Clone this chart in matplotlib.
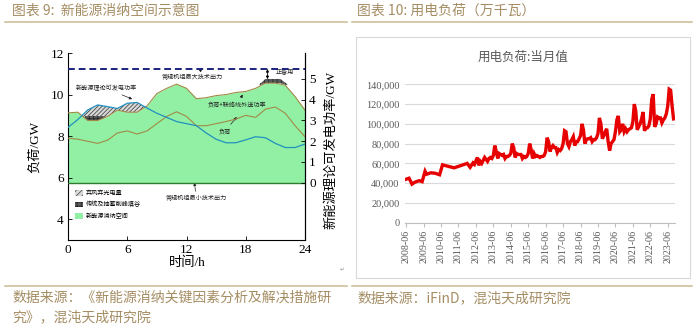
import numpy as np
import pandas as pd
import matplotlib
matplotlib.use("Agg")
import matplotlib.pyplot as plt
from matplotlib.patches import Patch
from matplotlib.lines import Line2D

plt.rcParams["font.family"] = ["Noto Sans CJK SC", "DejaVu Sans"]
plt.rcParams["hatch.linewidth"] = 0.5

TAN = "#a58d63"
RULE = "#cdb991"
SERIF = ["Liberation Serif", "Noto Sans CJK SC"]
GREEN = "#92f0a4"
OLIVE = "#a08a46"
BLUE = "#2191c0"

# ---- left panel: daily schematic (GW) ----
hours = list(range(25))
space_top = [9.12, 9.15, 8.75, 8.75, 8.95, 9.25, 9.15, 9.15, 9.45, 10.05, 10.30, 10.50, 10.30,
             9.80, 9.85, 9.95, 10.00, 10.10, 10.15, 10.30, 10.55, 10.55, 10.45, 9.90, 9.25]
load = [7.90, 7.85, 7.75, 7.65, 7.80, 8.15, 8.25, 8.10, 8.25, 8.60, 8.95, 9.17, 8.95,
        8.50, 8.50, 8.60, 8.70, 8.82, 9.00, 8.90, 9.30, 9.40, 9.10, 8.50, 7.97]
# new-energy theoretical output, right axis (GW)
res_avail = [2.66, 3.04, 3.50, 3.74, 3.66, 3.57, 3.82, 3.86, 3.59, 3.34, 3.14, 2.94, 2.84,
             2.74, 2.39, 2.09, 1.92, 1.92, 2.06, 2.21, 2.16, 1.89, 1.69, 1.69, 1.86]
MIN_OUTPUT = 5.76   # conventional units, minimum technical output
MAX_OUTPUT = 11.23  # conventional units, maximum technical output

# peak shaving / valley filling bands
band_hours = [1.7, 2.0, 3.0, 3.8]
band_low = [8.90, 8.75, 8.75, 8.90]
band_high = [8.95, 8.97, 8.97, 8.95]
cap_hours = [19.4, 20.0, 21.5, 22.2]
cap_low = [10.45, 10.55, 10.55, 10.45]
cap_high = [10.50, 10.75, 10.75, 10.50]

# ---- right panel: monthly power load (10MW) ----
early_months = ["2008-06", "2008-08", "2008-10", "2008-12", "2009-03", "2009-05", "2009-07",
                "2009-08", "2009-11", "2010-02", "2010-05", "2010-07", "2011-03", "2011-12",
                "2012-02", "2012-04", "2012-05"]
early_values = [44000, 45000, 39000, 41000, 42500, 41500, 52000, 49000, 50500, 50000, 48500,
                58500, 55500, 60000, 56000, 60500, 59000]
monthly_start = "2012-07"
monthly_values = [
    66000, 58000, 62000, 60000, 63000, 66000,
    64000, 62000, 65000, 66000, 65000, 68000, 78000, 72000, 65000, 70000, 69000, 68000,
    69000, 65000, 67000, 67000, 68000, 70000, 80000, 76000, 66000, 70000, 69000, 69000,
    69000, 65000, 67000, 66000, 67000, 70000, 80000, 74000, 65000, 70000, 67000, 68000,
    67000, 66000, 67000, 67000, 68000, 72000, 86000, 82000, 72000, 76000, 78000, 76000,
    76000, 71000, 74000, 73000, 75000, 80000, 93000, 92000, 80000, 77000, 82000, 84000,
    87000, 78000, 82000, 82000, 85000, 88000, 100000, 94000, 80000, 84000, 85000, 85000,
    86000, 82000, 84000, 84000, 86000, 90000, 106000, 100000, 85000, 88000, 92000, 95000,
    82000, 73000, 80000, 82000, 84000, 92000, 104000, 108000, 92000, 94000, 100000, 92000,
    95000, 92000, 94000, 95000, 96000, 102000, 120000, 113000, 94000, 97000, 100000, 105000,
    112000, 93000, 96000, 96000, 98000, 105000, 125000, 130000, 97000, 100000, 107000, 106000,
    106000, 101000, 104000, 106000, 110000, 118000, 135000, 134000, 118000, 105000,
]
tick_labels = [f"{y}-06" for y in range(2008, 2024)]

W, H = 700, 326
fig = plt.figure(figsize=(W / 100, H / 100), dpi=100)


def fx(x):
    return x / W


def fy(y):
    return 1 - y / H


# headers, rules and footers
fig.text(fx(12), fy(11), "图表 9:  新能源消纳空间示意图", color=TAN, fontsize=10, va="center")
fig.text(fx(357), fy(11), "图表 10: 用电负荷（万千瓦）", color=TAN, fontsize=10, va="center")
for x0, x1 in [(5, 347), (352, 692)]:
    fig.add_artist(Line2D([fx(x0), fx(x1)], [fy(22), fy(22)], color=RULE, lw=1.1))
    fig.add_artist(Line2D([fx(x0), fx(x1)], [fy(286), fy(286)], color=RULE, lw=1.1))
fig.text(fx(12), fy(298), "数据来源：《新能源消纳关键因素分析及解决措施研", color=TAN,
         fontsize=10, va="center")
fig.text(fx(12), fy(317), "究》，混沌天成研究院", color=TAN, fontsize=10, va="center")
fig.text(fx(357), fy(298), "数据来源：iFinD，混沌天成研究院", color=TAN, fontsize=10, va="center")
fig.text(fx(340), fy(270), "↵", color="#999999", fontsize=4, family="DejaVu Sans", va="center")

# ---- left chart ----
ax = fig.add_axes([fx(68), fy(240), fx(305) - fx(68), fy(53) - fy(240)])
ax2 = ax.twinx()
ax.set_xlim(0, 24)
ax.set_ylim(3, 12)
ax2.set_ylim(3 - MIN_OUTPUT, 12 - MIN_OUTPUT)

res_left = np.array(res_avail) + MIN_OUTPUT
top = np.array(space_top)
ax.fill_between(hours, MIN_OUTPUT, top, color=GREEN, lw=0, zorder=1)
ax.fill_between(hours, top, res_left, where=res_left > top, interpolate=True,
                facecolor="#d8d8d8", edgecolor="#333333", hatch="////////", lw=0, zorder=2)
ax.fill_between(band_hours, band_low, band_high, facecolor="#5a5a5a", edgecolor="#222222",
                hatch="++++", lw=0, zorder=3)
ax.fill_between(cap_hours, cap_low, cap_high, facecolor="#5a5a5a", edgecolor="#222222",
                hatch="||||", lw=0, zorder=3)
ax.plot(hours, space_top, color=OLIVE, lw=0.8, zorder=4)
ax.plot(hours, load, color=OLIVE, lw=0.8, zorder=4)
ax2.plot(hours, res_avail, color=BLUE, lw=0.9, zorder=4)
ax.axhline(MIN_OUTPUT, color="#2e7d32", lw=1.0, zorder=4)
ax.axhline(MAX_OUTPUT, color="#1a237e", lw=1.4, ls=(0, (3.5, 2)), zorder=4)

ax.set_xticks([0, 6, 12, 18, 24])
ax.set_yticks([4, 6, 8, 10, 12])
ax2.set_yticks([0, 1, 2, 3, 4, 5])
for a in (ax, ax2):
    a.spines["top"].set_visible(False)
    a.tick_params(direction="in", length=3, width=0.6, labelsize=9.5, pad=3)
    for lab in a.get_xticklabels() + a.get_yticklabels():
        lab.set_family(SERIF)
    for s in a.spines.values():
        s.set_linewidth(0.8)
ax2.spines["left"].set_visible(False)
ax2.spines["bottom"].set_visible(False)

fig.text(fx(35), fy(147), "负荷/GW", rotation=90, fontsize=9.5, ha="center", va="center",
         family=SERIF)
fig.text(fx(331), fy(150), "新能源理论可发电功率/GW", rotation=90, fontsize=9.5, ha="center",
         va="center", family=SERIF)
fig.text(fx(187), fy(263), "时间/h", fontsize=9.5, ha="center", va="center", family=SERIF)

note = dict(fontsize=4.4, color="#222222", ha="center", va="center")
arrow = dict(arrowstyle="-|>", lw=0.5, color="#222222", mutation_scale=4,
             shrinkA=0, shrinkB=0)
ax.annotate("新能源理论可发电功率", xy=(6.5, 9.78), xytext=(3.85, 10.31),
            arrowprops=arrow, **note)
ax.annotate("常规机组最大技术出力", xy=(13.6, MAX_OUTPUT), xytext=(12.6, 10.84),
            arrowprops=arrow, **note)
ax.annotate("负荷+联络线外送功率", xy=(17.7, 10.0), xytext=(17.1, 9.52),
            arrowprops=arrow, **note)
ax.annotate("负荷", xy=(17.1, 8.92), xytext=(15.9, 8.24), arrowprops=arrow, **note)
ax.annotate("常规机组最小技术出力", xy=(12.8, MIN_OUTPUT), xytext=(13.0, 5.02),
            arrowprops=arrow, **note)
ax.annotate("", xy=(20.2, 10.74), xytext=(20.2, MAX_OUTPUT),
            arrowprops=dict(arrowstyle="<|-|>", lw=0.6, color="black", mutation_scale=4,
                            shrinkA=0, shrinkB=0))
ax.text(21.0, 11.05, "正备用", fontsize=4.4, color="#222222", ha="left", va="center")

handles = [
    Patch(facecolor="#d8d8d8", edgecolor="#444444", hatch="//////", lw=0),
    Patch(facecolor="#5a5a5a", edgecolor="#222222", hatch="++++", lw=0),
    Patch(facecolor=GREEN, edgecolor=GREEN, lw=0),
]
ax.legend(handles, ["弃风弃光电量", "传统及抽蓄削峰填谷", "新能源消纳空间"],
          loc="upper left", bbox_to_anchor=(0.02, 0.285), frameon=False, fontsize=4.4,
          handlelength=1.3, handleheight=1.0, handletextpad=0.4, labelspacing=0.55,
          borderaxespad=0)

# ---- right chart ----
fig.add_artist(plt.Rectangle((fx(356), fy(278)), fx(690) - fx(356), fy(37) - fy(278),
                             transform=fig.transFigure, fill=False, edgecolor="#d9d9d9",
                             lw=0.8))
fig.text(fx(523), fy(57), "用电负荷:当月值", fontsize=9, color="#595959", ha="center",
         va="center")

base = pd.Period("2008-06", freq="M")
early_x = [(pd.Period(m, freq="M") - base).n for m in early_months]
start = (pd.Period(monthly_start, freq="M") - base).n
monthly_x = list(range(start, start + len(monthly_values)))
x_all = early_x + monthly_x
y_all = early_values + monthly_values

bx = fig.add_axes([fx(405), fy(222.7), fx(675) - fx(405), fy(84.3) - fy(222.7)])
bx.plot(x_all, y_all, color="#e60000", lw=2.4, solid_joinstyle="miter")
bx.set_ylim(0, 140000)
bx.set_xlim(-0.8, 185)
bx.set_yticks(range(0, 140001, 20000))
bx.set_yticklabels([f"{v:,}" for v in range(0, 140001, 20000)])
bx.set_xticks(range(0, 181, 12))
bx.set_xticklabels(tick_labels, rotation=90)
bx.grid(axis="y", color="#d9d9d9", lw=0.8)
bx.set_axisbelow(True)
for s in ["top", "right", "left"]:
    bx.spines[s].set_visible(False)
bx.spines["bottom"].set_color("#bfbfbf")
bx.spines["bottom"].set_linewidth(0.8)
bx.tick_params(axis="y", length=0, labelsize=7.5, labelcolor="#595959", pad=4)
bx.tick_params(axis="x", length=3, color="#bfbfbf", labelsize=7.2, labelcolor="#595959", pad=2)
for lab in bx.get_xticklabels() + bx.get_yticklabels():
    lab.set_family(SERIF)

fig.savefig("out.png", dpi=100, facecolor="white")
